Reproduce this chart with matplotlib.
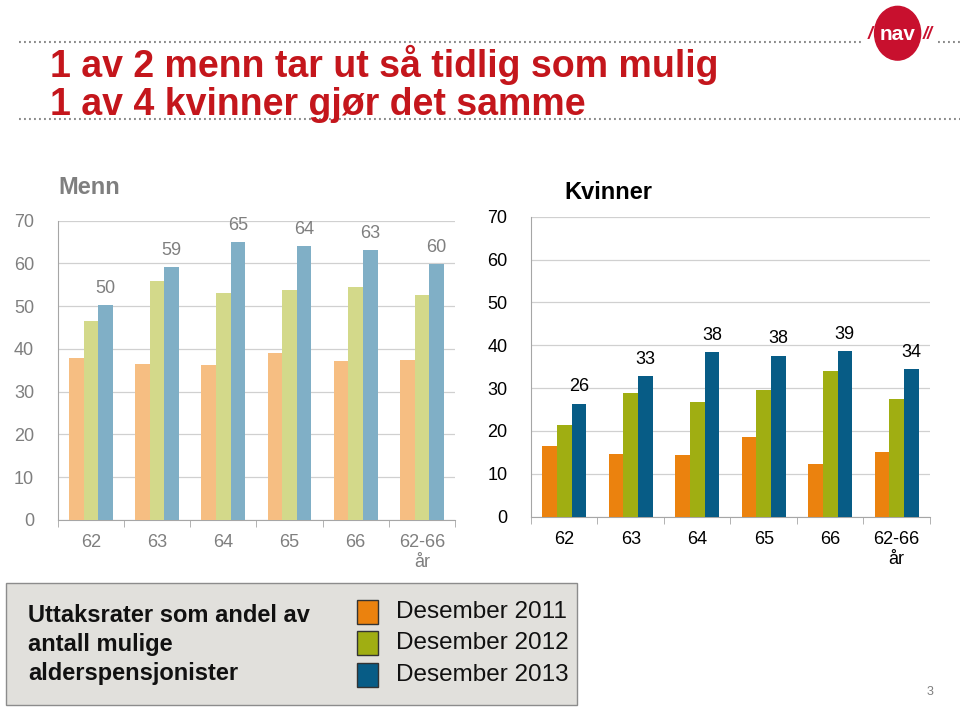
import matplotlib.pyplot as plt
from matplotlib.patches import Rectangle, Ellipse
import numpy as np

categories = ['62', '63', '64', '65', '66', '62-66\når']
series_names = ['Desember 2011', 'Desember 2012', 'Desember 2013']

menn_2011 = [38.0, 36.4, 36.2, 39.1, 37.3, 37.4]
menn_2012 = [46.6, 56.0, 53.2, 53.9, 54.5, 52.7]
menn_2013 = [50.3, 59.2, 65.0, 64.0, 63.1, 59.9]

kvinner_2011 = [16.4, 14.6, 14.4, 18.7, 12.2, 15.2]
kvinner_2012 = [21.5, 28.8, 26.7, 29.6, 34.1, 27.5]
kvinner_2013 = [26.4, 32.8, 38.5, 37.6, 38.7, 34.4]

menn_labels = ['50', '59', '65', '64', '63', '60']
kvinner_labels = ['26', '33', '38', '38', '39', '34']

menn_colors = ['#F6BE82', '#D3D98A', '#80AFC6']
kvinner_colors = ['#EB820E', '#A0AE12', '#075C86']

plt.rcParams['font.family'] = ['Liberation Sans', 'DejaVu Sans']

fig = plt.figure(figsize=(9.6, 7.07), dpi=100)


def draw_panel(ax, values, colors, labels, text_color, title, title_xy):
    x = np.arange(len(categories))
    w = 0.22
    for i, (vals, c) in enumerate(zip(values, colors)):
        ax.bar(x + (i - 1) * w, vals, width=w, color=c, zorder=3)
    for xi, v, lab in zip(x, values[2], labels):
        ax.annotate(lab, (xi + w, v), xytext=(0, 12), textcoords='offset points',
                    ha='center', va='center', fontsize=13, color=text_color)
    ax.set_xlim(-0.5, len(categories) - 0.5)
    ax.set_ylim(0, 70)
    ax.set_yticks(range(0, 71, 10))
    ax.set_xticks(x)
    ax.set_xticklabels(categories, fontsize=13, color=text_color, linespacing=1.25)
    ax.set_xticks(np.arange(-0.5, len(categories)), minor=True)
    ax.tick_params(axis='x', which='major', length=0, pad=10)
    ax.tick_params(axis='x', which='minor', length=5, color='#A6A6A6')
    ax.tick_params(axis='y', length=0, labelsize=13, labelcolor=text_color, pad=17)
    ax.grid(axis='y', color='#D0D0D0', linewidth=0.9, zorder=0)
    for s in ['top', 'right']:
        ax.spines[s].set_visible(False)
    ax.spines['left'].set_color('#A6A6A6')
    ax.spines['bottom'].set_color('#A6A6A6')
    fig.text(title_xy[0], title_xy[1], title, fontsize=17, fontweight='bold',
             color=text_color, ha='left', va='center')


ax1 = fig.add_axes([0.0601, 0.2645, 0.4139, 0.4233])
draw_panel(ax1, [menn_2011, menn_2012, menn_2013], menn_colors, menn_labels,
           '#7F7F7F', 'Menn', (0.061, 0.7355))

ax2 = fig.add_axes([0.5531, 0.2692, 0.4156, 0.4243])
draw_panel(ax2, [kvinner_2011, kvinner_2012, kvinner_2013], kvinner_colors,
           kvinner_labels, '#000000', 'Kvinner', (0.588, 0.728))

# title
red = '#C4161C'
fig.text(0.052, 0.891, '1 av 2 menn tar ut så tidlig som mulig', fontsize=27,
         fontweight='bold', color=red, va='baseline')
fig.text(0.052, 0.837, '1 av 4 kvinner gjør det samme', fontsize=27,
         fontweight='bold', color=red, va='baseline')

# dotted rules
dots = dict(color='#8C8C8C', linestyle=(0, (0.9, 1.5)), linewidth=1.5)
fig.add_artist(plt.Line2D([0.02, 0.898], [0.941, 0.941], **dots))
fig.add_artist(plt.Line2D([0.977, 1.0], [0.941, 0.941], **dots))
fig.add_artist(plt.Line2D([0.02, 1.0], [0.832, 0.832], **dots))

# logo
logo_red = '#C8102E'
fig.add_artist(Ellipse((0.935, 0.953), 0.048, 0.076, color=logo_red))
fig.text(0.935, 0.951, 'nav', fontsize=15, fontweight='bold', color='white',
         ha='center', va='center')
fig.text(0.909, 0.951, '/', fontsize=13, fontweight='bold', color=logo_red,
         style='italic', ha='right', va='center')
fig.text(0.961, 0.951, '//', fontsize=13, fontweight='bold', color=logo_red,
         style='italic', ha='left', va='center')

# bottom box
fig.add_artist(Rectangle((0.006, 0.003), 0.595, 0.172, transform=fig.transFigure,
                         facecolor='#E1E0DC', edgecolor='#8C8C8C', linewidth=1))
box_lines = ['Uttaksrater som andel av', 'antall mulige', 'alderspensjonister']
for i, line in enumerate(box_lines):
    fig.text(0.029, 0.13 - i * 0.041, line, fontsize=17, fontweight='bold',
             va='center', color='#111111')

for i, (name, c) in enumerate(zip(series_names, kvinner_colors)):
    y = 0.135 - i * 0.045
    fig.add_artist(Rectangle((0.372, y - 0.017), 0.022, 0.034, transform=fig.transFigure,
                             facecolor=c, edgecolor='#333333', linewidth=1))
    fig.text(0.412, y, name, fontsize=17.5, va='center', color='#111111')

fig.text(0.969, 0.021, '3', fontsize=9, color='#7F7F7F', ha='center', va='center')

fig.savefig('out.png', dpi=100)
